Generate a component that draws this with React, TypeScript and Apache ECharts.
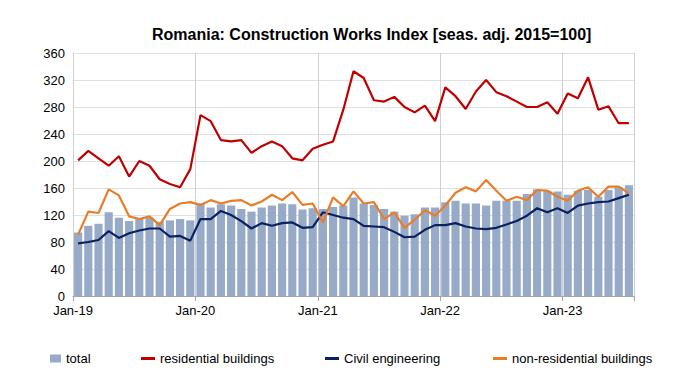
import React, { useEffect, useRef } from "react";
import * as echarts from "echarts";

const monthNames = ["Jan","Feb","Mar","Apr","May","Jun","Jul","Aug","Sep","Oct","Nov","Dec"];
const years = ["19","20","21","22","23"];
const categories: string[] = [];
years.forEach((y) => monthNames.forEach((m) => categories.push(`${m}-${y}`)));
categories.splice(55);

const total = [94,104,107,124,116,111,114,116,110,112,114,112,137,131,136,134,129,125,131,134,137,136,128,130,129,132,134,146,137,135,129,125,119,121,131,131,139,141,137,137,134,141,141,141,151,158,156,155,150,156,157,147,157,161,164];
const residential = [201,215,204,193,207,177,200,193,173,166,161,188,268,259,231,229,231,212,222,229,222,204,201,218,224,229,276,333,323,290,288,295,280,272,282,259,309,296,277,303,320,302,296,288,280,280,287,270,300,293,324,276,281,256,256];
const civil = [78,80,83,96,86,93,97,100,100,88,89,82,114,114,126,120,111,100,108,104,108,109,101,102,124,120,116,114,104,103,102,95,87,88,98,105,105,108,103,100,99,101,106,111,119,130,124,130,123,134,137,139,140,145,150];
const nonResidential = [91,125,123,158,149,118,114,118,105,129,137,139,135,142,137,141,142,134,140,150,142,154,135,137,109,146,133,155,137,139,114,124,101,113,127,119,134,153,161,155,172,156,141,147,142,157,156,147,141,156,161,147,162,162,152];
const yTicks = { min: 0, max: 360, interval: 40 };

const FONT = "Liberation Sans, Arial, sans-serif";
const C_TOTAL = "#97abc8";
const C_RES = "#c00000";
const C_CIV = "#0b2060";
const C_NON = "#e87d28";

export default function App() {
  const ref = useRef<HTMLDivElement>(null);
  useEffect(() => {
    if (!ref.current) return;
    const chart = echarts.init(ref.current, undefined, { renderer: "svg" });
    const everyYear = (i: number) => i % 12 === 0;
    const legendBase = {
      top: 352,
      padding: 0,
      orient: "horizontal",
      textStyle: { fontFamily: FONT, fontSize: 13, color: "#000" },
      itemGap: 0,
      selectedMode: false,
    };
    chart.setOption({
      animation: false,
      textStyle: { fontFamily: FONT },
      title: {
        text: "Romania: Construction Works Index [seas. adj. 2015=100]",
        left: 152,
        top: 26,
        padding: 0,
        textStyle: { fontFamily: FONT, fontSize: 16, fontWeight: "bold", color: "#000" },
      },
      legend: [
        { ...legendBase, left: 50, data: [{ name: "total", icon: "rect" }], itemWidth: 11, itemHeight: 8 },
        { ...legendBase, left: 141, data: [{ name: "residential buildings", icon: "rect" }], itemWidth: 14, itemHeight: 3 },
        { ...legendBase, left: 325, data: [{ name: "Civil engineering", icon: "rect" }], itemWidth: 14, itemHeight: 3 },
        { ...legendBase, left: 493, data: [{ name: "non-residential buildings", icon: "rect" }], itemWidth: 14, itemHeight: 3 },
      ],
      grid: { left: 73, right: 66, top: 53, bottom: 96, containLabel: false },
      xAxis: {
        type: "category",
        data: categories,
        boundaryGap: true,
        axisLine: { show: true, lineStyle: { color: "#a6a6a6", width: 1 } },
        axisTick: { show: true, interval: everyYear, length: 5, lineStyle: { color: "#a6a6a6" } },
        splitLine: { show: true, interval: everyYear, lineStyle: { color: "#d0d0d0", width: 1 } },
        axisLabel: {
          interval: everyYear,
          margin: 8,
          color: "#000",
          fontSize: 13,
          fontFamily: FONT,
          formatter: (v: string) => `{a|${v}}`,
          rich: { a: { padding: [0, 10.2, 0, 0], fontSize: 13, fontFamily: FONT, color: "#000" } },
        },
      },
      yAxis: {
        type: "value",
        min: yTicks.min,
        max: yTicks.max,
        interval: yTicks.interval,
        axisLine: { show: true, lineStyle: { color: "#d0d0d0" } },
        axisTick: { show: false },
        axisLabel: { color: "#000", fontSize: 13, fontFamily: FONT, margin: 8 },
        splitLine: { show: true, lineStyle: { color: "#e0e0e0", width: 1 } },
      },
      series: [
        {
          name: "total",
          type: "bar",
          data: total,
          barCategoryGap: "20%",
          itemStyle: { color: C_TOTAL },
          z: 1,
        },
        {
          name: "residential buildings",
          type: "line",
          data: residential,
          showSymbol: false,
          symbol: "none",
          lineStyle: { color: C_RES, width: 2.2 },
          itemStyle: { color: C_RES },
          z: 3,
        },
        {
          name: "Civil engineering",
          type: "line",
          data: civil,
          showSymbol: false,
          symbol: "none",
          lineStyle: { color: C_CIV, width: 2.2 },
          itemStyle: { color: C_CIV },
          z: 3,
        },
        {
          name: "non-residential buildings",
          type: "line",
          data: nonResidential,
          showSymbol: false,
          symbol: "none",
          lineStyle: { color: C_NON, width: 2.2 },
          itemStyle: { color: C_NON },
          z: 3,
        },
      ],
    });
    return () => chart.dispose();
  }, []);
  return <div ref={ref} style={{ width: 700, height: 392, margin: -8 }} />;
}
